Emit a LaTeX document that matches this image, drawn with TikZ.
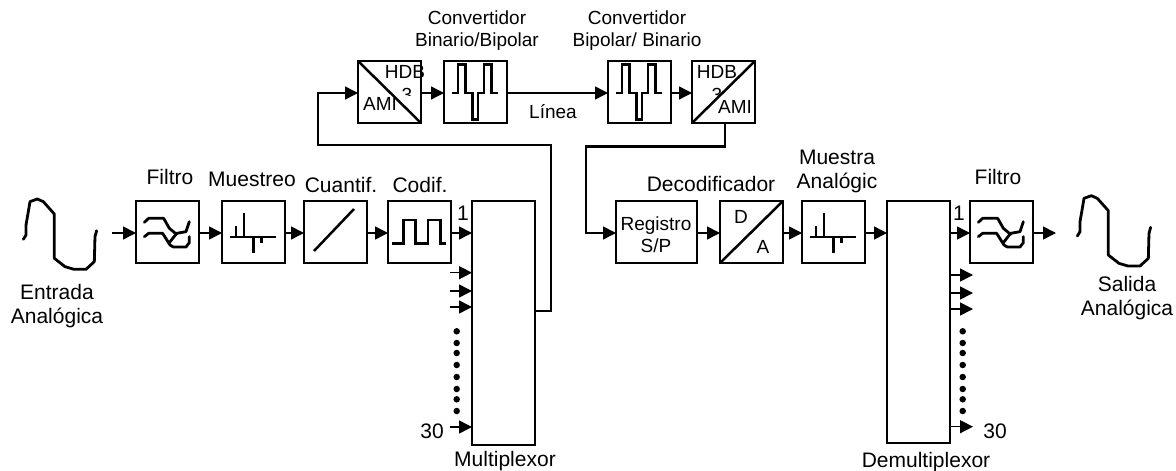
\documentclass[tikz,border=0pt]{standalone}
\usepackage{fontspec}
\setmainfont{Liberation Sans}
\usetikzlibrary{arrows.meta}
\tikzset{
  x=1pt,y=-1pt,
  block/.style={draw=black,line width=1.5pt,fill=none,inner sep=0pt,outer sep=0pt,minimum width=63pt,minimum height=62pt},
  wire/.style={line width=1.5pt,-{Triangle[length=13pt,width=13pt]}},
  busline/.style={line width=2.8pt,line join=miter},
  icon/.style={line width=2.5pt,line join=miter},
  handline/.style={line width=2.8pt,line join=round,line cap=round},
  lab/.style={inner sep=0pt,outer sep=0pt,align=center,font=\fontsize{21}{24}\selectfont},
  labsmall/.style={inner sep=0pt,outer sep=0pt,align=center,font=\fontsize{19}{21.5}\selectfont},
  dot/.style={circle,fill=black,inner sep=0pt,minimum size=6.5pt},
  filtericon/.pic={
    \draw[handline,x=0.3333pt,y=-0.3333pt] (25,64) -- (38,52) -- (83,52) -- (100,82) -- (122,100);
    \draw[handline,x=0.3333pt,y=-0.3333pt] (25,107) -- (38,97) -- (80,97) -- (102,132) -- (112,138) -- (150,138) -- (160,125) -- (160,107);
    \draw[handline,x=0.3333pt,y=-0.3333pt] (100,125) -- (122,97) -- (150,92) -- (160,62);
  },
  sampleicon/.pic={
    \draw[icon,x=0.3333pt,y=-0.3333pt] (24,108) -- (162,108) (42,108) -- (42,74) (66,108) -- (66,37) (95,108) -- (95,157) (119,108) -- (119,127);
  },
  bipolaricon/.pic={
    \draw[icon,x=0.3333pt,y=-0.3333pt] (25,96) -- (45,96) (42,96) -- (42,11) -- (65,11) -- (65,96) -- (85,96) -- (85,176) -- (102,176) -- (102,96) -- (120,96) -- (120,11) -- (142,11) -- (142,96) -- (162,96);
  },
  wave/.pic={
    \draw[handline,x=0.3333pt,y=-0.3333pt] (70,298) -- (78,285) -- (78,255) -- (85,215) -- (90,185) -- (112,177) -- (130,185) -- (163,222) -- (163,355) -- (195,380) -- (222,388) -- (258,388) -- (283,365) -- (285,290) -- (290,272);
  }
}
\begin{document}
\begin{tikzpicture}
\useasboundingbox (0,0) rectangle (1176,471);

% lower row, left
\node[block] (filt1) at (167.5,232) {};
\node[block] (mues1) at (253.5,232) {};
\node[block] (cuan) at (335.5,232) {};
\node[block] (codi) at (419.5,232) {};
\node[block,minimum height=244pt] (mux) at (503.5,323) {};
% upper row
\node[block] (ami1) at (389.5,92) {};
\node[block] (conv1) at (475.5,92) {};
\node[block] (conv2) at (639.5,92) {};
\node[block] (ami2) at (723.5,92) {};
% lower row, right
\node[block,minimum width=81pt] (reg) at (656.5,232) {};
\node[block] (da) at (751.5,232) {};
\node[block] (mues2) at (833.5,232) {};
\node[block,minimum height=242pt] (demux) at (918.5,322) {};
\node[block] (filt2) at (1001.5,232) {};

% icons
\pic at (filt1.north west) {filtericon};
\pic at (filt2.north west) {filtericon};
\pic at (mues1.north west) {sampleicon};
\pic at (mues2.north west) {sampleicon};
\pic at (conv1.north west) {bipolaricon};
\pic at (conv2.north west) {bipolaricon};
\draw[icon] (cuan.north west) ++(10,50) -- ++(40,-42);
\draw[icon,x=0.3333pt,y=-0.3333pt] (codi.north west) ++(13,127) -- ++(34,0) -- ++(0,-70) -- ++(35,0) -- ++(0,70) -- ++(38,0) -- ++(0,-70) -- ++(38,0) -- ++(0,70) -- ++(15,0);
\draw[line width=2.5pt] (ami1.north west) -- (ami1.south east);
\draw[line width=2.5pt] (ami2.south west) -- (ami2.north east);
\draw[line width=2.5pt] (da.south west) -- (da.north east);
\pic at (0,140) {wave};
\pic at (1054,136.7) {wave};

% connectors
\coordinate (in1) at (112,233);
\coordinate (low) at (0,233);
\draw[wire] (in1) -- (filt1.west |- low);
\draw[wire] (filt1.east |- low) -- (mues1.west |- low);
\draw[wire] (mues1.east |- low) -- (cuan.west |- low);
\draw[wire] (cuan.east |- low) -- (codi.west |- low);
\draw[wire] (codi.east |- low) -- (mux.west |- low);
\foreach \y/\n in {272.7/a,291/b,307/c,427/d}{
  \coordinate (mi\n) at (450,\y);
  \draw[wire] (mi\n) -- (mux.west |- mi\n);
}
\coordinate (muxout) at (mux.east |- 0,311);
\coordinate (r1) at (551,145);
\coordinate (r2) at (318,145);
\coordinate (top) at (0,93);
\draw[busline] (muxout) -- (muxout -| r1) -- (r1) -- (r2) -- (r2 |- top) -- ++(20,0);
\draw[wire] (r2 |- top) ++(20,0) -- (ami1.west |- top);
\draw[wire] (ami1.east |- top) -- (conv1.west |- top);
\draw[wire] (conv1.east |- top) -- (conv2.west |- top);
\draw[wire] (conv2.east |- top) -- (ami2.west |- top);
\coordinate (s1) at (725,146.5);
\coordinate (s2) at (586,146.5);
\draw[busline] (s1 |- ami2.south) -- (s1) -- (s2) -- (s2 |- low) -- ++(8,0);
\draw[wire] (s2 |- low) ++(8,0) -- (reg.west |- low);
\draw[wire] (reg.east |- low) -- (da.west |- low);
\draw[wire] (da.east |- low) -- (mues2.west |- low);
\draw[wire] (mues2.east |- low) -- (demux.west |- low);
\draw[wire] (demux.east |- low) -- (filt2.west |- low);
\coordinate (out2) at (1056,233);
\draw[wire] (filt2.east |- out2) -- (out2);
\foreach \y/\n in {275/a,293/b,309/c,426.7/d}{
  \coordinate (do\n) at (973,\y);
  \draw[wire] (demux.east |- do\n) -- (do\n);
}

% dots
\foreach \y [count=\i] in {331.3,343,353,365,377,389,399.3,411}{
  \node[dot] (ma\i) at (456.7,\y) {};
  \node[dot] (da\i) at (962.7,\y) {};
}

% labels
\node[lab] (tfilt1) at (170,177) {Filtro};
\node[lab] (tmues) at (252,179) {Muestreo};
\node[lab] (tcuan) at (341,185) {Cuantif.};
\node[lab] (tcodi) at (420,185) {Codif.};
\node[lab] (tent) at (57,306) {Entrada\\Analógica};
\node[labsmall] (tconv1) at (477,30.5) {Convertidor\\Binario/Bipolar};
\node[labsmall] (tconv2) at (637,30.5) {Convertidor\\Bipolar/ Binario};
\node[labsmall] (tlin) at (553,112) {Línea};
\node[lab] (tdeco) at (711,184) {Decodificador};
\node[lab] (tmuan) at (837,171) {Muestra\\Analógic};
\node[lab] (tfilt2) at (998,177) {Filtro};
\node[lab] (tsal) at (1127,298.5) {Salida\\Analógica};
\node[labsmall] (treg) at (656,234.5) {Registro\\S/P};
\node[lab] (tmux) at (505,461) {Multiplexor};
\node[lab] (tdem) at (926,462.5) {Demultiplexor};
\node[lab] (tm1) at (463,213) {1};
\node[lab] (tm30) at (432,431) {30};
\node[lab] (td1) at (959,213) {1};
\node[lab] (td30) at (995,431) {30};
\node[labsmall] (td) at (741,217) {D};
\node[labsmall] (ta) at (763,247) {A};
\node[labsmall] (th1) at (405,72) {HDB};
\node[labsmall] (am1) at (380,104) {AMI};
\node[labsmall] (th2) at (717,72) {HDB};
\node[labsmall] (am2) at (735,107) {AMI};
\begin{scope}
\clip (398,80) rectangle (418,95.7);
\node[labsmall] (tt1) at (407,95) {3};
\end{scope}
\begin{scope}
\clip (707,80) rectangle (727,95.7);
\node[labsmall] (tt2) at (717,95) {3};
\end{scope}
\end{tikzpicture}
\end{document}
